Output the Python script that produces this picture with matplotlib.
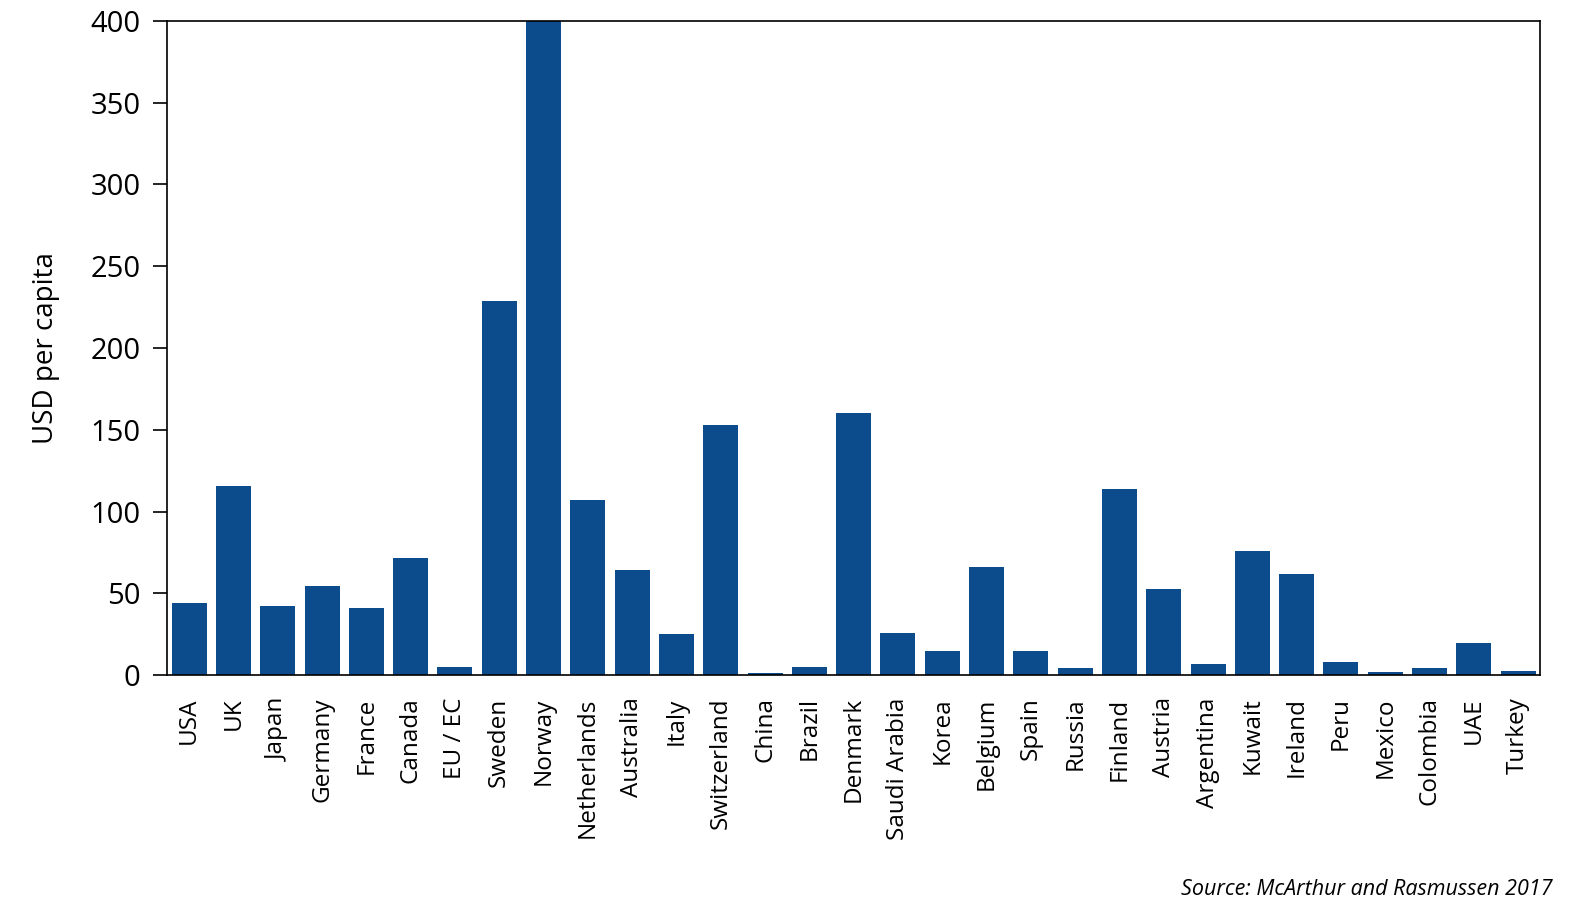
import matplotlib
matplotlib.use('Agg')
import matplotlib.pyplot as plt
import numpy as np

plt.rcParams['font.family'] = ['Open Sans', 'DejaVu Sans']

countries = ['USA', 'UK', 'Japan', 'Germany', 'France', 'Canada', 'EU / EC',
             'Sweden', 'Norway', 'Netherlands', 'Australia', 'Italy',
             'Switzerland', 'China', 'Brazil', 'Denmark', 'Saudi Arabia',
             'Korea', 'Belgium', 'Spain', 'Russia', 'Finland', 'Austria',
             'Argentina', 'Kuwait', 'Ireland', 'Peru', 'Mexico', 'Colombia',
             'UAE', 'Turkey']
usd_per_capita = [44, 115.5, 42, 54.5, 41, 71.5, 5, 229, 400, 107, 64, 25,
                  153, 1, 5, 160, 25.7, 15, 66, 15, 4.5, 114, 52.5, 7, 76,
                  62, 8, 2, 4.5, 19.6, 2.5]

fig = plt.figure(figsize=(15.75, 9.11), dpi=100)
ax = fig.add_axes([0.106, 0.259, 0.872, 0.718])

x = np.arange(len(countries))
ax.bar(x, usd_per_capita, width=0.79, color='#0C4B8C')

ax.set_xlim(-0.5, len(countries) - 0.5)
ax.set_ylim(0, 400)
ax.set_yticks(np.arange(0, 401, 50))
ax.set_xticks(x)
ax.set_xticklabels(countries, rotation=90, fontsize=17.5)
ax.tick_params(axis='x', length=0, pad=16)
ax.tick_params(axis='y', length=10, width=1.2, labelsize=21, pad=9)
for s in ax.spines.values():
    s.set_linewidth(1.2)
ax.set_ylabel('USD per capita', fontsize=20, labelpad=22)

fig.text(0.986, 0.012, 'Source: McArthur and Rasmussen 2017', ha='right',
         va='bottom', fontsize=15.5, style='italic')

fig.savefig('out.png', dpi=100)
